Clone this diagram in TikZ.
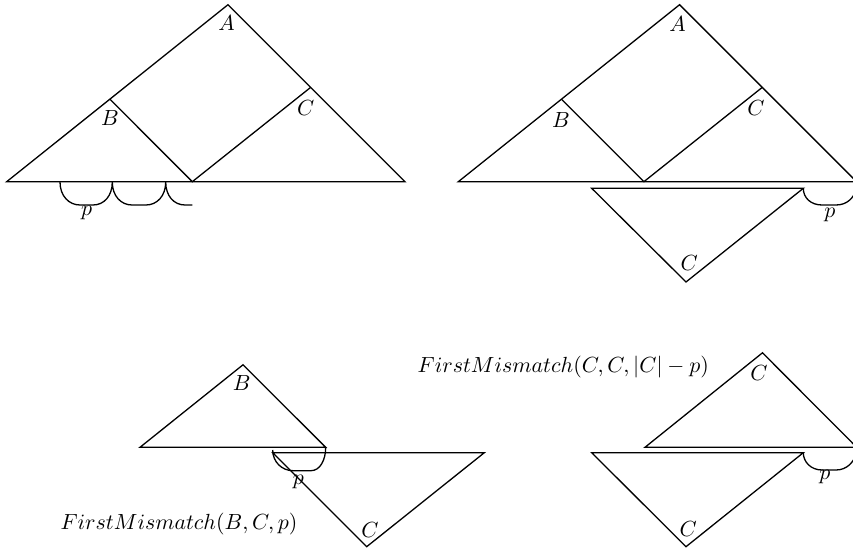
\documentclass[tikz,border=0pt]{standalone}
\begin{document}
\begin{tikzpicture}[x=0.5pt,y=-0.5pt,
  tri/.style={draw=black,line width=0.65pt,line join=miter},
  brk/.style={draw=black,line width=0.65pt},
  lbl/.style={inner sep=0pt,font=\fontsize{10.6}{12.7}\selectfont}]
\useasboundingbox (0,0) rectangle (853,551);
\clip (0,0) rectangle (853,551);
% ---------- figure 1 (top left)
\coordinate (L1) at (6.7,181.7);
\coordinate (A1) at (228,4.7);
\coordinate (R1) at (405,181.7);
\coordinate (B1) at (110,99.3);
\coordinate (M1) at (192.3,181.7);
\coordinate (C1) at (310.5,87.5);
\draw[tri] (L1) -- (A1) -- (R1) -- cycle;
\draw[tri] (B1) -- (M1) -- (C1);
\node[lbl] (la1) at (226.7,23.3) {$A$};
\node[lbl] (lb1) at (110,118.3) {$B$};
\node[lbl] (lc1) at (305.7,108.3) {$C$};
\draw[brk] (60,182) .. controls (60,196) and (69,205) .. (80,205) -- (93,205)
  .. controls (104,205) and (112.3,196) .. (112.3,182)
  .. controls (112.3,196) and (121,205) .. (132,205) -- (146,205)
  .. controls (157,205) and (165.7,196) .. (165.7,182)
  .. controls (165.7,196) and (174,205) .. (185,205) -- (192.3,205);
\node[lbl] (lp1) at (86.7,213) {$p$};
% ---------- figure 2 (top right)
\coordinate (L2) at (458.3,181.7);
\coordinate (A2) at (679.6,4.7);
\coordinate (R2) at (856.6,181.7);
\coordinate (B2) at (561.6,99.3);
\coordinate (M2) at (643.9,181.7);
\coordinate (C2) at (762.1,87.5);
\draw[tri] (L2) -- (A2) -- (R2) -- cycle;
\draw[tri] (B2) -- (M2) -- (C2);
\node[lbl] (la2) at (677.7,24) {$A$};
\node[lbl] (lb2) at (561,120) {$B$};
\node[lbl] (lc2) at (756,108.3) {$C$};
\coordinate (P2) at (591.7,188.3);
\coordinate (Q2) at (803.3,188.3);
\coordinate (V2) at (686,282);
\draw[tri] (P2) -- (Q2) -- (V2) -- cycle;
\node[lbl] (lc2b) at (689.3,263.3) {$C$};
\draw[brk] (Q2) .. controls (803.3,198) and (811,205) .. (822,205) -- (836,205)
  .. controls (847,205) and (854,198) .. (856.6,188.3);
\node[lbl] (lp2) at (830,215) {$p$};
% ---------- figure 3 (bottom left)
\coordinate (L3) at (140,447.3);
\coordinate (B3) at (243,364.8);
\coordinate (R3) at (325.7,447.3);
\draw[tri] (L3) -- (B3) -- (R3) -- cycle;
\node[lbl] (lb3) at (241.7,383.3) {$B$};
\coordinate (P3) at (272.7,452.7);
\coordinate (Q3) at (484.3,452.7);
\coordinate (V3) at (366.7,546.7);
\draw[tri] (P3) -- (Q3) -- (V3) -- cycle;
\node[lbl] (lc3) at (370,530) {$C$};
\draw[brk] (272.7,450) .. controls (272.7,462) and (282,470.7) .. (293,470.7) -- (311,470.7)
  .. controls (320,470.7) and (325.7,460) .. (R3);
\node[lbl] (lp3) at (298.3,481.7) {$p$};
\node[lbl] (fm1) at (179,524) {$FirstMismatch(B,C,p)$};
% ---------- figure 4 (bottom right)
\coordinate (L4) at (645,447.3);
\coordinate (C4) at (762.5,352.8);
\coordinate (R4) at (856.7,447.3);
\draw[tri] (L4) -- (C4) -- (R4) -- cycle;
\node[lbl] (lc4) at (759,373.3) {$C$};
\coordinate (P4) at (591.7,452.7);
\coordinate (Q4) at (803.3,452.7);
\coordinate (V4) at (686,546.7);
\draw[tri] (P4) -- (Q4) -- (V4) -- cycle;
\node[lbl] (lc4b) at (688.3,529.3) {$C$};
\draw[brk] (Q4) .. controls (803.3,462) and (811,470) .. (822,470) -- (836,470)
  .. controls (847,470) and (854,462) .. (856.6,452.7);
\node[lbl] (lp4) at (825,476.7) {$p$};
\node[lbl] (fm2) at (563.3,367) {$FirstMismatch(C,C,|C|-p)$};
\end{tikzpicture}
\end{document}
